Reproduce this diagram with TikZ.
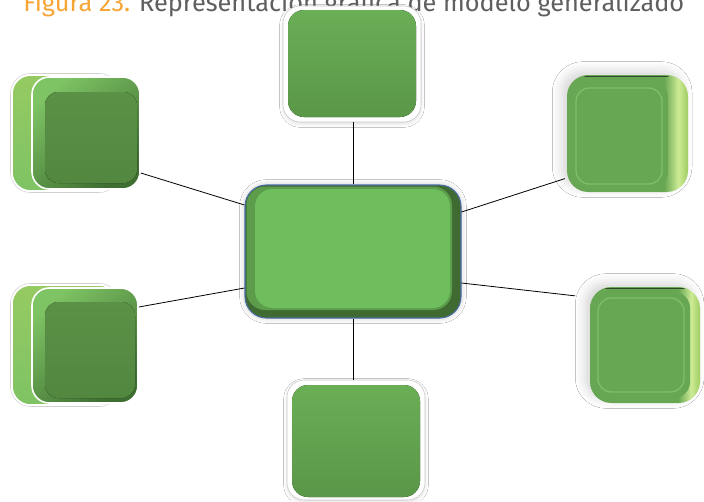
\documentclass[tikz,border=0pt]{standalone}
\usepackage{fontspec}
\usepackage{graphicx}
\setmainfont{Fira Sans}
\usetikzlibrary{shadows.blur,fit}

\definecolor{figorange}{HTML}{F7A535}
\definecolor{titlegray}{HTML}{5F5F5F}
% plain boxes (top / bottom)
\definecolor{pgreen}{HTML}{6AAE56}
\definecolor{pgreendk}{HTML}{5A9748}
% central box
\definecolor{hubface}{HTML}{6FBE5E}
\definecolor{hubmid}{HTML}{5C9C4A}
\definecolor{hubdark}{HTML}{3F6B32}
\definecolor{hubline}{HTML}{4B6EA5}
% left boxes
\definecolor{lface}{HTML}{5A9146}
\definecolor{lfacedk}{HTML}{528740}
\definecolor{lside}{HTML}{7EC364}
\definecolor{llight}{HTML}{96CA62}
\definecolor{ldark}{HTML}{3E6E31}
% right boxes
\definecolor{rface}{HTML}{67A652}
\definecolor{rring}{HTML}{80BF67}
\definecolor{rpale}{HTML}{CDEB95}
\definecolor{redge}{HTML}{9FCD62}
\definecolor{rtop}{HTML}{2E4B27}

% right-hand extrusion of the right boxes
\pgfdeclarehorizontalshading{rbody}{100bp}{color(0bp)=(rface);color(25bp)=(rface);color(65bp)=(rface);color(71bp)=(rpale);color(75bp)=(redge);color(100bp)=(redge)}

\tikzset{
  conn/.style={draw=black, line width=0.6pt},
  box/.style={inner sep=0pt, rounded corners=13pt},
  whiteframe/.style={box, fill=white, draw=black!22, line width=0.4pt,
    blur shadow={shadow xshift=0pt, shadow yshift=-1.5pt, shadow blur radius=2.5pt, shadow opacity=12}},
  plainface/.style={rounded corners=12pt, top color=pgreen, bottom color=pgreendk},
  backplate/.style={draw=white, line width=1.2pt, top color=llight, bottom color=lside, rounded corners=14pt},
  frontplate/.style={box, draw=white, line width=1.2pt, top color=lside, bottom color=ldark, shading angle=40},
  leftface/.style={rounded corners=10pt, top color=lface, bottom color=lfacedk},
  rightbody/.style={box, rounded corners=16pt, shading=rbody,
    blur shadow={shadow xshift=-4pt, shadow yshift=3pt, shadow blur radius=7pt, shadow opacity=16}},
  ring/.style={draw=rring, line width=1pt, rounded corners=10pt},
}

\begin{document}
\begin{tikzpicture}[x=0.75pt,y=-0.75pt]
\useasboundingbox (0,0) rectangle (704,501);
\fill[white] (0,0) rectangle (704,501);

% caption (its upper part runs off the page)
\node[anchor=base west, inner sep=0pt, font=\fontsize{19}{21}\selectfont] (title) at (23,11)
  {\resizebox{495.75pt}{\height}{\textcolor{figorange}{Figura 23.} \textcolor{titlegray}{Representación gráfica de modelo generalizado}}};

% ---- central box ----
\node[fit={(245,185) (461,318)}, box, rounded corners=16pt, fill=hubdark, draw=hubline, line width=0.8pt,
  blur shadow={shadow xshift=0pt, shadow yshift=0pt, shadow blur radius=4pt, shadow opacity=22}] (hub) {};
\fill[hubmid, rounded corners=14pt] (246.5,186.5) rectangle (452,310);
\fill[hubface, rounded corners=13pt] (255,189) rectangle (450,308);

% ---- top box ----
\node[fit={(283,6) (421,122)}, whiteframe] (top) {};
\fill[plainface] (288,10) rectangle (416,117);

% ---- bottom box ----
\node[fit={(287,380) (425,500)}, whiteframe] (bot) {};
\fill[plainface] (292,385) rectangle (420,497);

% ---- left boxes ----
% upper left
\draw[black!18, line width=0.4pt, rounded corners=15pt] (10.5,73.5) rectangle (119.5,192.5);
\draw[backplate] (12,75) rectangle (118,191);
\node[fit={(32,77) (140,189)}, frontplate] (tl) {};
\fill[leftface] (45,92) rectangle (137,183);
% lower left
\draw[black!18, line width=0.4pt, rounded corners=15pt] (10.5,283.5) rectangle (119.5,406.5);
\draw[backplate] (12,285) rectangle (118,405);
\node[fit={(32,288) (138,403)}, frontplate] (bl) {};
\fill[leftface] (45,302) rectangle (135,398);

% ---- right boxes ----
% upper right
\node[fit={(567,75) (688,192)}, rightbody] (tr) {};
\draw[rtop, line width=1pt, line cap=round] (585,76.5) -- (668,76.5);
\fill[rface, rounded corners=12pt] (570,82) rectangle (668,188);
\draw[ring] (576,88) rectangle (662,184);
% lower right
\node[fit={(590,287) (700,403)}, rightbody] (br) {};
\draw[rtop, line width=1pt, line cap=round] (606,288.5) -- (684,288.5);
\fill[rface, rounded corners=12pt] (592,292) rectangle (690,398);
\draw[ring] (598,298) rectangle (684,392);

% ---- connectors ----
\draw[conn] (hub.north |- top.south) -- (hub.north);
\draw[conn] (hub.south) -- (hub.south |- bot.north);
\draw[conn] (tl.east |- 0,173) -- (hub.west |- 0,205);
\draw[conn] (bl.east |- 0,307) -- (hub.west |- 0,288);
\draw[conn, shorten >=1.5pt] (hub.east |- 0,212) -- (tr.west |- 0,178);
\draw[conn, shorten >=11pt] (hub.east |- 0,283) -- (br.west |- 0,297.5);
\end{tikzpicture}
\end{document}
